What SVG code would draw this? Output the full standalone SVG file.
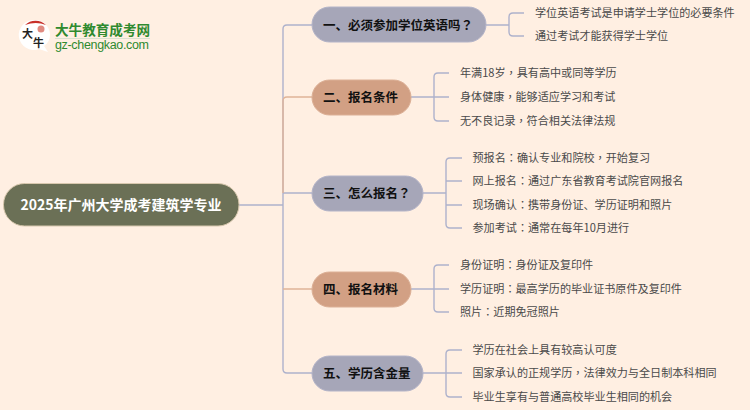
<svg xmlns="http://www.w3.org/2000/svg" width="750" height="410" viewBox="0 0 750 410">
<style>
text{font-family:"Noto Sans CJK SC","Liberation Sans",sans-serif}
tspan{font-family:"Noto Sans CJK TC","Noto Sans CJK SC",sans-serif}
.c{fill:none;stroke:#aeb2cc;stroke-width:1.4}
.o{fill:none;stroke:#e0b498;stroke-width:1.4}
.t{font-size:11.1px;fill:#4a4a4a}
.h{font-size:12.5px;font-weight:700;fill:#111}
.g{fill:#a6a6b8;stroke:#b4b4c8}
.b{fill:#d2a084;stroke:#dcb096}
</style>
<rect width="750" height="410" fill="#ffefe2"/>
<g id="connectors">
<path class="c" d="M239 205H283M312 25H287Q283 25 283 29V369Q283 373 287 373H312M283 193H312"/>
<path class="o" d="M312 97H287Q283 97 283 101V193M283 289H312"/>
<path class="c" d="M486 25H509M524 13H513Q509 13 509 17V32Q509 36 513 36H524"/>
<path class="c" d="M411 97H449M449 73H438Q434 73 434 77V117Q434 121 438 121H449"/>
<path class="c" d="M423 193H446M462 158H450Q446 158 446 162V224Q446 228 450 228H462M446 181H462M446 205H462"/>
<path class="c" d="M411 289H449M449 265H438Q434 265 434 269V308Q434 312 438 312H449"/>
<path class="c" d="M423 373H462M462 350H450Q446 350 446 354V393Q446 397 450 397H462"/>
</g>
<g id="logo">
<path d="M35 20a15 15 0 0 1 15 15q0 7-6 11l4 6-9-3a15 15 0 1 1-4-29z" fill="#fff"/>
<path d="M25 25a15 15 0 0 1 21 0q-10-4-21 0z" fill="#c8302a"/>
<circle cx="41" cy="29" r="3.500" fill="#e08a80"/>
<text x="22" y="38" font-size="11" font-weight="700" fill="#222">大</text>
<text x="33" y="47" font-size="11" font-weight="700" fill="#222">牛</text>
<text x="55" y="35" font-size="13.6" font-weight="700" fill="#2f8a2f">大牛教育成考网</text>
<rect x="55" y="38" width="95" height="1" fill="#d9e2cf"/>
<text x="55" y="49" font-size="12.5" fill="#2f8a2f" style="font-family:'Liberation Sans',sans-serif" textLength="94">gz-chengkao.com</text>
</g>
<g id="root"><rect x="3.500" y="183.500" width="235.500" height="42.500" rx="21" fill="#6b7056" stroke="#d8c8ae"/><text x="121" y="210" font-size="14" font-weight="700" fill="#fff" text-anchor="middle">2025年广州大学成考建筑学专业</text></g>
<g id="n1"><rect class="g" x="312" y="7" width="174" height="35" rx="17.500"/><text class="h" x="323" y="29.500">一、必须参加学位英语吗<tspan>？</tspan></text></g>
<g id="n2"><rect class="b" x="312" y="80" width="99" height="35" rx="17.500"/><text class="h" x="323" y="101.500">二、报名条件</text></g>
<g id="n3"><rect class="g" x="312" y="176" width="111" height="35" rx="17.500"/><text class="h" x="323" y="197.500">三、怎么报名<tspan>？</tspan></text></g>
<g id="n4"><rect class="b" x="312" y="272" width="99" height="35" rx="17.500"/><text class="h" x="323" y="293.500">四、报名材料</text></g>
<g id="n5"><rect class="g" x="312" y="356" width="111" height="35" rx="17.500"/><text class="h" x="323" y="377.500">五、学历含金量</text></g>
<g id="leaf1"><text class="t" x="535" y="17">学位英语考试是申请学士学位的必要条件</text><text class="t" x="535" y="40">通过考试才能获得学士学位</text></g>
<g id="leaf2"><text class="t" x="460" y="77">年满18岁<tspan>，</tspan>具有高中或同等学历</text><text class="t" x="460" y="101">身体健康<tspan>，</tspan>能够适应学习和考试</text><text class="t" x="460" y="125">无不良记录<tspan>，</tspan>符合相关法律法规</text></g>
<g id="leaf3"><text class="t" x="472.500" y="162">预报名<tspan>：</tspan>确认专业和院校<tspan>，</tspan>开始复习</text><text class="t" x="472.500" y="185">网上报名<tspan>：</tspan>通过广东省教育考试院官网报名</text><text class="t" x="472.500" y="209">现场确认<tspan>：</tspan>携带身份证、学历证明和照片</text><text class="t" x="472.500" y="232">参加考试<tspan>：</tspan>通常在每年10月进行</text></g>
<g id="leaf4"><text class="t" x="460" y="269">身份证明<tspan>：</tspan>身份证及复印件</text><text class="t" x="460" y="293">学历证明<tspan>：</tspan>最高学历的毕业证书原件及复印件</text><text class="t" x="460" y="316">照片<tspan>：</tspan>近期免冠照片</text></g>
<g id="leaf5"><text class="t" x="472.500" y="354">学历在社会上具有较高认可度</text><text class="t" x="472.500" y="377">国家承认的正规学历<tspan>，</tspan>法律效力与全日制本科相同</text><text class="t" x="472.500" y="401">毕业生享有与普通高校毕业生相同的机会</text></g>
</svg>
